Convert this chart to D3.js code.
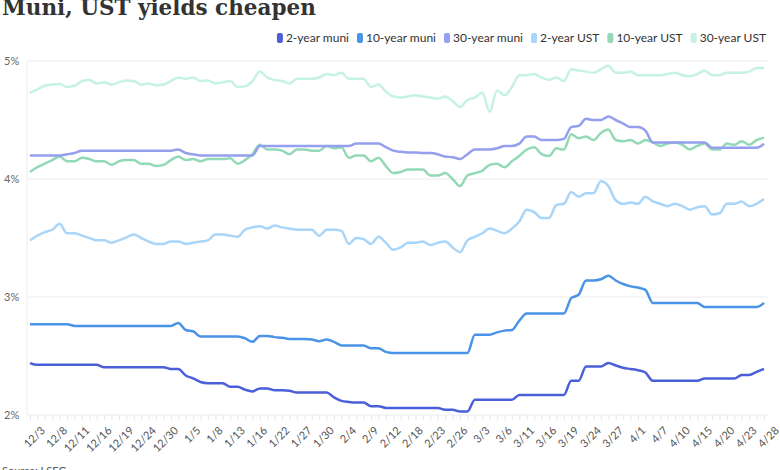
<!DOCTYPE html>
<html lang="en">
<head>
<meta charset="UTF-8">
<title>Muni, UST yields cheapen</title>
<style>
  * { margin:0; padding:0; box-sizing:border-box; }
  body { width:780px; height:470px; background:#fff; overflow:hidden; }
  svg { display:block; }
</style>
<script src="https://cdn.jsdelivr.net/npm/d3@7"></script>
</head>
<body>
<div id="chart"></div>
<script>
const dates=["12/3","12/4","12/5","12/8","12/9","12/10","12/11","12/12","12/15","12/16","12/17","12/18","12/19","12/22","12/23","12/24","12/26","12/29","12/30","12/31",
  "1/2","1/5","1/6","1/7","1/8","1/9","1/12","1/13","1/14","1/15","1/16","1/20","1/21","1/22","1/23","1/26","1/27","1/28","1/29","1/30",
  "2/2","2/3","2/4","2/5","2/6","2/9","2/10","2/11","2/12","2/13","2/17","2/18","2/19","2/20","2/23","2/24","2/25","2/26","2/27","3/2",
  "3/3","3/4","3/5","3/6","3/9","3/10","3/11","3/12","3/13","3/16","3/17","3/18","3/19","3/20","3/23","3/24","3/25","3/26","3/27","3/30",
  "3/31","4/1","4/2","4/6","4/7","4/8","4/9","4/10","4/13","4/14","4/15","4/16","4/17","4/20","4/21","4/22","4/23","4/24","4/27","4/28"];

const tickLabels=["12/3","12/8","12/11","12/16","12/19","12/24","12/30","1/5","1/8","1/13","1/16","1/22","1/27","1/30","2/4","2/9","2/12","2/18","2/23","2/26","3/3","3/6","3/11","3/16","3/19","3/24","3/27","4/1","4/7","4/10","4/15","4/20","4/23","4/28"];

const yTicks=[2,3,4,5];

const muni2=[2.44,2.425,2.425,2.425,2.425,2.425,2.425,2.425,2.425,2.425,
  2.405,2.405,2.405,2.405,2.405,2.405,2.405,2.405,2.405,2.39,
  2.39,2.335,2.31,2.28,2.27,2.27,2.27,2.24,2.24,2.215,
  2.20,2.225,2.225,2.21,2.21,2.205,2.19,2.19,2.19,2.19,
  2.19,2.15,2.12,2.11,2.105,2.105,2.075,2.075,2.06,2.06,
  2.06,2.06,2.06,2.06,2.06,2.06,2.045,2.045,2.03,2.03,
  2.13,2.13,2.13,2.13,2.13,2.13,2.17,2.17,2.17,2.17,
  2.17,2.17,2.17,2.29,2.29,2.41,2.41,2.41,2.44,2.42,
  2.40,2.39,2.38,2.36,2.29,2.29,2.29,2.29,2.29,2.29,
  2.29,2.31,2.31,2.31,2.31,2.31,2.34,2.34,2.365,2.39];

const muni10=[2.77,2.77,2.77,2.77,2.77,2.77,2.755,2.755,2.755,2.755,
  2.755,2.755,2.755,2.755,2.755,2.755,2.755,2.755,2.755,2.755,
  2.78,2.72,2.71,2.665,2.665,2.665,2.665,2.665,2.665,2.65,
  2.62,2.67,2.67,2.66,2.655,2.645,2.645,2.645,2.64,2.625,
  2.64,2.62,2.59,2.59,2.59,2.59,2.565,2.565,2.535,2.525,
  2.525,2.525,2.525,2.525,2.525,2.525,2.525,2.525,2.525,2.525,
  2.68,2.68,2.68,2.70,2.715,2.72,2.80,2.86,2.86,2.86,
  2.86,2.86,2.86,2.99,3.02,3.14,3.14,3.15,3.18,3.14,
  3.11,3.09,3.08,3.06,2.95,2.95,2.95,2.95,2.95,2.95,
  2.95,2.915,2.915,2.915,2.915,2.915,2.915,2.915,2.915,2.95];

const muni30=[4.20,4.20,4.20,4.20,4.20,4.21,4.22,4.24,4.24,4.24,
  4.24,4.24,4.24,4.24,4.24,4.24,4.24,4.24,4.24,4.24,
  4.25,4.22,4.21,4.20,4.20,4.20,4.20,4.20,4.20,4.20,
  4.20,4.28,4.28,4.28,4.28,4.28,4.28,4.28,4.28,4.28,
  4.28,4.28,4.28,4.28,4.30,4.30,4.30,4.30,4.27,4.24,
  4.23,4.225,4.225,4.22,4.22,4.21,4.19,4.185,4.17,4.21,
  4.25,4.25,4.25,4.26,4.28,4.28,4.30,4.36,4.36,4.33,
  4.33,4.33,4.34,4.44,4.45,4.51,4.50,4.50,4.53,4.50,
  4.47,4.44,4.44,4.41,4.31,4.31,4.31,4.31,4.31,4.31,
  4.31,4.31,4.265,4.265,4.265,4.265,4.265,4.265,4.265,4.30];

const ust2=[3.48,3.52,3.55,3.57,3.62,3.54,3.54,3.52,3.50,3.48,
  3.48,3.46,3.48,3.505,3.53,3.50,3.47,3.45,3.45,3.47,
  3.47,3.45,3.46,3.47,3.48,3.53,3.53,3.52,3.51,3.57,
  3.59,3.60,3.58,3.605,3.59,3.58,3.57,3.57,3.57,3.52,
  3.57,3.57,3.56,3.45,3.50,3.49,3.45,3.51,3.46,3.40,
  3.42,3.46,3.46,3.47,3.44,3.46,3.47,3.42,3.38,3.48,
  3.51,3.54,3.58,3.56,3.54,3.58,3.64,3.74,3.72,3.67,
  3.67,3.78,3.79,3.89,3.85,3.88,3.88,3.98,3.94,3.82,
  3.79,3.80,3.79,3.85,3.81,3.79,3.77,3.79,3.77,3.74,
  3.76,3.77,3.70,3.71,3.79,3.79,3.81,3.77,3.79,3.83];

const ust10=[4.06,4.10,4.13,4.16,4.19,4.15,4.15,4.18,4.17,4.15,
  4.15,4.12,4.15,4.16,4.16,4.13,4.13,4.11,4.12,4.16,
  4.19,4.16,4.17,4.15,4.17,4.17,4.17,4.175,4.13,4.16,
  4.21,4.29,4.25,4.25,4.24,4.21,4.25,4.25,4.24,4.24,
  4.28,4.26,4.27,4.18,4.20,4.20,4.15,4.18,4.11,4.05,
  4.06,4.08,4.08,4.08,4.03,4.03,4.05,4.00,3.94,4.03,
  4.05,4.07,4.12,4.13,4.10,4.15,4.195,4.25,4.27,4.21,
  4.195,4.26,4.25,4.38,4.345,4.36,4.33,4.39,4.42,4.33,
  4.32,4.33,4.30,4.33,4.31,4.28,4.30,4.31,4.29,4.25,
  4.28,4.30,4.25,4.25,4.30,4.29,4.32,4.29,4.33,4.35];

const ust30=[4.73,4.76,4.79,4.80,4.805,4.78,4.79,4.83,4.84,4.81,
  4.82,4.80,4.82,4.835,4.83,4.80,4.81,4.795,4.80,4.83,
  4.86,4.85,4.86,4.83,4.835,4.81,4.82,4.83,4.78,4.785,
  4.83,4.91,4.86,4.84,4.83,4.81,4.85,4.85,4.85,4.86,
  4.89,4.88,4.90,4.85,4.85,4.85,4.78,4.80,4.74,4.70,
  4.69,4.70,4.71,4.70,4.69,4.68,4.70,4.66,4.61,4.67,
  4.69,4.73,4.57,4.75,4.71,4.78,4.88,4.88,4.89,4.86,
  4.84,4.86,4.83,4.93,4.92,4.91,4.90,4.93,4.96,4.90,
  4.90,4.91,4.88,4.88,4.88,4.88,4.89,4.90,4.88,4.87,
  4.89,4.92,4.88,4.88,4.90,4.90,4.90,4.91,4.94,4.94];

const seriesNames=["2-year muni","10-year muni","30-year muni","2-year UST","10-year UST","30-year UST"];
const seriesValues=[muni2,muni10,muni30,ust2,ust10,ust30];
const colors=["#4b5fd8","#4a93e6","#949fee","#a9d5f8","#93d9b5","#c5f2e3"];

const width=780, height=470;
const marginTop=61, marginRight=16, marginBottom=55, marginLeft=30;

const svg=d3.select("#chart").append("svg")
    .attr("width",width)
    .attr("height",height);

const x=d3.scalePoint(dates,[marginLeft,width-marginRight]);
const y=d3.scaleLinear([2,5],[height-marginBottom,marginTop]);

// title (cut off by the top edge like the original)
svg.append("text")
    .attr("x",2).attr("y",15)
    .attr("font-family","'DejaVu Serif', serif")
    .attr("font-weight","bold")
    .attr("font-size",21.5)
    .attr("fill","#333")
    .text("Muni, UST yields cheapen");

// grid + y labels
const grid=svg.append("g");
grid.selectAll("line")
  .data(yTicks)
  .join("line")
    .attr("x1",marginLeft-3).attr("x2",width-12)
    .attr("y1",d=>y(d)).attr("y2",d=>y(d))
    .attr("stroke","#ececec");
grid.selectAll("text")
  .data(yTicks)
  .join("text")
    .attr("x",4).attr("y",d=>y(d))
    .attr("dy","0.35em")
    .attr("font-family","Lato, sans-serif")
    .attr("font-size",11)
    .attr("fill","#666")
    .text(d=>d+"%");
svg.append("line")
    .attr("x1",marginLeft-3).attr("x2",marginLeft-3)
    .attr("y1",y(5)).attr("y2",y(2))
    .attr("stroke","#ececec");

// x axis
const xAxis=d3.axisBottom(x).tickSize(5).tickFormat(d=>tickLabels.includes(d)?d:"");
svg.append("g")
    .attr("transform",`translate(0,${y(2)})`)
    .call(xAxis)
    .call(g=>g.select(".domain").remove())
    .call(g=>g.selectAll(".tick line").attr("stroke","#e6e6e6"))
    .call(g=>g.selectAll(".tick text")
        .attr("font-family","Lato, sans-serif")
        .attr("font-size",11)
        .attr("fill","#555")
        .attr("text-anchor","end")
        .attr("transform","translate(4,5) rotate(-45)"));

// lines
const line=d3.line()
    .x((d,i)=>x(dates[i]))
    .y(d=>y(d))
    .curve(d3.curveMonotoneX);
const order=[5,4,3,2,1,0];
svg.append("g")
  .selectAll("path")
  .data(order)
  .join("path")
    .attr("fill","none")
    .attr("stroke",k=>colors[k])
    .attr("stroke-width",2.5)
    .attr("stroke-linejoin","round")
    .attr("d",k=>line(seriesValues[k]));

// legend, right aligned
const legend=svg.append("g")
    .attr("font-family","Lato, sans-serif")
    .attr("font-size",12)
    .attr("fill","#333");
let lx=width-14;
for(let k=seriesNames.length-1;k>=0;k--){
  const t=legend.append("text").attr("y",38).attr("dy","0.35em").text(seriesNames[k]);
  const w=t.node().getComputedTextLength();
  lx-=w;
  t.attr("x",lx);
  legend.append("rect")
      .attr("x",lx-9).attr("y",33)
      .attr("width",6).attr("height",10)
      .attr("rx",2)
      .attr("fill",colors[k]);
  lx-=17;
}

// source
svg.append("text")
    .attr("x",2).attr("y",475)
    .attr("font-family","Lato, sans-serif")
    .attr("font-size",11)
    .attr("fill","#555")
    .text("Source: LSEG");
</script>
</body>
</html>
